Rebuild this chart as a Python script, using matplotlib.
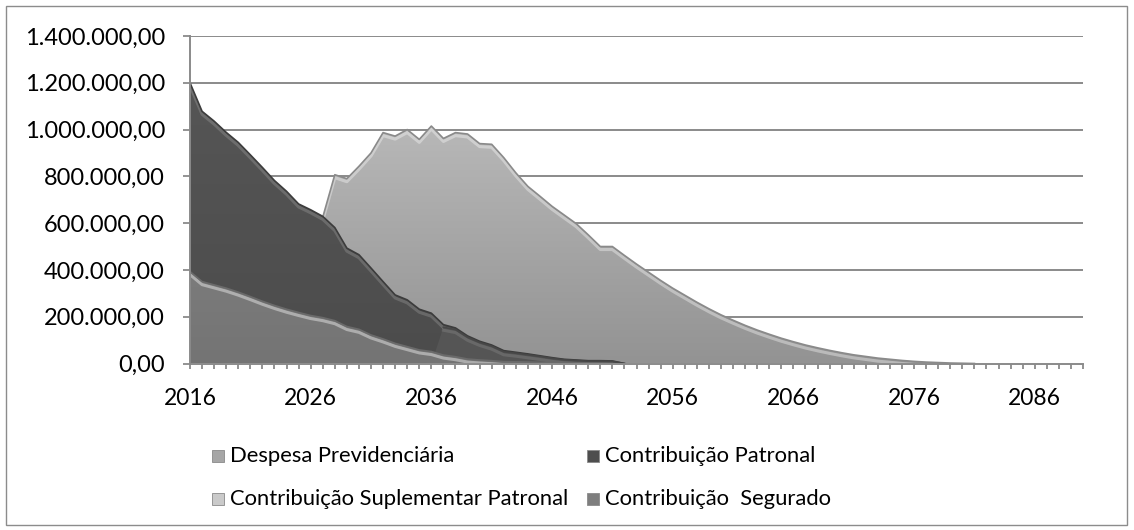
import numpy as np
import matplotlib
matplotlib.use("Agg")
import matplotlib.pyplot as plt
from matplotlib.patches import Polygon, Rectangle
from matplotlib.colors import LinearSegmentedColormap
from matplotlib import transforms

# ---------------- data ----------------
years = list(range(2016, 2091))

despesa = [380000, 400000, 420000, 440000, 460000, 480000, 500000, 520000, 540000, 560000, 580000,
           625000, 807000, 790000, 843000, 900000, 987000, 972000, 1000000, 958000, 1015000,
           962000, 987000, 981000, 940000, 937000, 880000, 815000, 757000, 715000, 672000,
           635000, 598000, 550000, 500000, 500000, 462000, 425000, 390000, 355000, 322000,
           292000, 262000, 234000, 208000, 185000, 163000, 143000, 125000, 108000, 93000,
           79000, 67000, 56000, 46000, 37000, 30000, 23000, 18000, 13000, 9000,
           6000, 4000, 2000, 1000,
           0, 0, 0, 0, 0, 0, 0, 0, 0, 0]

patronal = [1200000, 1078000, 1036000, 988000, 945000, 892000, 838000, 782000, 736000, 682000,
            657000, 629000, 581000, 493000, 465000, 408000, 350000, 293000, 272000, 232000,
            215000, 166000, 152000, 118000, 95000, 79000, 55000, 48000, 41000, 33000,
            25000, 18000, 15000, 12000, 12000, 11000] + [0] * 39

suplementar = [0] * 21 + [155000, 145000, 112000, 90000, 74000, 50000, 44000, 37000, 30000,
                          22000, 16000, 13000, 10000, 10000, 9000] + [0] * 39

segurado = [393000, 350000, 336000, 322000, 305000, 286000, 266000, 248000, 232000, 218000,
            205000, 196000, 183000, 158000, 146000, 122000, 105000, 86000, 72000, 58000,
            51000, 36000, 29000, 19000, 15000, 12000, 8000, 7000, 6000, 5000,
            4000, 3000, 2000, 2000, 1000] + [0] * 40

labels = ["Despesa Previdenciária", "Contribuição Patronal",
          "Contribuição Suplementar Patronal", "Contribuição  Segurado"]
yticks = [0, 200000, 400000, 600000, 800000, 1000000, 1200000, 1400000]
xlabel_years = [2016, 2026, 2036, 2046, 2056, 2066, 2076, 2086]

# ---------------- styling ----------------
FONT = "Lato"
plt.rcParams["font.family"] = [FONT, "DejaVu Sans"]

W, H = 1134, 530
fig = plt.figure(figsize=(W / 100, H / 100), dpi=100)
fig.patch.set_facecolor("white")

left, right, top, bottom = 190, 1083, 36, 363.5
ax = fig.add_axes([left / W, 1 - bottom / H, (right - left) / W, (bottom - top) / H])

ax.set_xlim(years[0], years[-1])
ax.set_ylim(0, 1400000)

grid_col = "#8a8a8a"
for v in yticks[1:]:
    ax.axhline(v, color=grid_col, lw=1.4, zorder=0)

def grad_area(x, y, c_top, c_bot, z, edge, hl_alpha=0.8):
    verts = [(x[0], 0)] + list(zip(x, y)) + [(x[-1], 0)]
    poly = Polygon(verts, closed=True, facecolor="none", edgecolor="none",
                   transform=ax.transData)
    ax.add_patch(poly)
    cmap = LinearSegmentedColormap.from_list("g", [c_bot, c_top])
    grad = np.linspace(0, 1, 256).reshape(-1, 1)
    im = ax.imshow(grad, extent=[x[0], x[-1], 0, 1400000], origin="lower",
                   aspect="auto", cmap=cmap, zorder=z, interpolation="bilinear")
    im.set_clip_path(poly)
    off = transforms.offset_copy(ax.transData, fig=fig, x=0, y=-3, units="dots")
    xs = np.array(x, float)
    ys = np.array(y, float)
    idx = np.where(ys > 0)[0]
    if len(idx):
        i0, i1 = idx[0], min(idx[-1] + 1, len(xs) - 1)
        ax.plot(xs[i0:i1 + 1], ys[i0:i1 + 1], color="white", alpha=hl_alpha * 0.45,
                lw=2.2, transform=off, zorder=z + 0.1, solid_joinstyle="round")
        ax.plot(xs[i0:i1 + 1], ys[i0:i1 + 1], color=edge, lw=1.2,
                zorder=z + 0.2, solid_joinstyle="round")
    ax.set_xlim(years[0], years[-1])
    ax.set_ylim(0, 1400000)

grad_area(years, despesa, "#c6c6c6", "#939393", 2, "#8a8a8a")
grad_area(years, patronal, "#575757", "#4c4c4c", 3, "#3c3c3c", hl_alpha=0.35)
grad_area(years, suplementar, "#5d5d5d", "#555555", 4, "#474747", hl_alpha=0.25)
grad_area(years, segurado, "#8e8e8e", "#747474", 5, "#6a6a6a", hl_alpha=0.9)

for s in ["top", "right"]:
    ax.spines[s].set_visible(False)
for s in ["left", "bottom"]:
    ax.spines[s].set_color(grid_col)
    ax.spines[s].set_linewidth(1.4)
    ax.spines[s].set_zorder(6)

def br(v):
    s = f"{v:,.2f}"
    return s.replace(",", "X").replace(".", ",").replace("X", ".")

ax.set_yticks(yticks)
ax.set_yticklabels([br(v) for v in yticks])
ax.set_xticks(years)
ax.set_xticklabels([str(y) if y in xlabel_years else "" for y in years])
ax.tick_params(axis="y", direction="out", length=5, width=1.3, color=grid_col,
               labelsize=17, labelcolor="black", pad=13)
ax.tick_params(axis="x", direction="out", length=3.6, width=1.3, color=grid_col,
               labelsize=16.5, labelcolor="black", pad=14)

# legend (manual layout to match reference)
leg_cols = ["#a6a6a6", "#4e4e4e", "#cacaca", "#7e7e7e"]
pos = [(212, 456), (587, 456), (212, 499), (587, 499)]
for (px, py), lab, c in zip(pos, labels, leg_cols):
    fig.add_artist(Rectangle((px / W, 1 - (py + 6) / H), 12 / W, 12 / H,
                             transform=fig.transFigure, facecolor=c,
                             edgecolor="#8a8a8a", lw=0.6))
    fig.text((px + 18) / W, 1 - py / H, lab, fontsize=15.8, va="center",
             ha="left", color="black")

# chart border
fig.add_artist(Rectangle((6 / W, 5 / H), (W - 13) / W, (H - 11) / H,
                         transform=fig.transFigure, facecolor="none",
                         edgecolor="#8c8c8c", lw=1.0))

fig.savefig("out.png", dpi=100)
